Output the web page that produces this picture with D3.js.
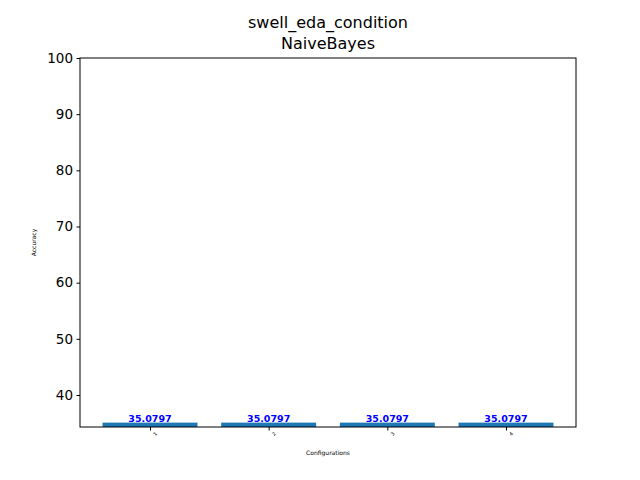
<!DOCTYPE html>
<html><head><meta charset="utf-8">
<script src="https://cdn.jsdelivr.net/npm/d3@7"></script>
<style>body{margin:0;background:#fff}text{font-family:"DejaVu Sans",sans-serif}</style>
</head><body><div id="chart"></div>
<script>
const configs = ['1', '2', '3', '4'];
const accuracy = [35.0797, 35.0797, 35.0797, 35.0797];
const yTicks = [40, 50, 60, 70, 80, 90, 100];

const W = 640, H = 480;
const margin = { top: 58, right: 64, bottom: 53, left: 80 };
const pw = W - margin.left - margin.right, ph = H - margin.top - margin.bottom;

const svg = d3.select('#chart').append('svg').attr('width', W).attr('height', H);
const g = svg.append('g').attr('transform', `translate(${margin.left},${margin.top})`);

const x = d3.scaleLinear().domain([0.41, 4.59]).range([0, pw]);
const y = d3.scaleLinear().domain([34.3, 100]).range([ph, 0]);

g.selectAll('rect.bar').data(accuracy).enter().append('rect')
  .attr('x', (d, i) => x(i + 1 - 0.4))
  .attr('width', x(0.8) - x(0))
  .attr('y', d => y(d))
  .attr('height', d => ph - y(d))
  .attr('fill', '#1f77b4');

g.selectAll('text.val').data(accuracy).enter().append('text')
  .attr('x', (d, i) => x(i + 1)).attr('y', d => y(d) - 1)
  .attr('text-anchor', 'middle').attr('font-size', 9.5).attr('font-weight', 'bold')
  .attr('fill', 'blue').text(d => d.toFixed(4));

const yAxis = g.append('g').call(d3.axisLeft(y).tickValues(yTicks).tickSize(3.5).tickPadding(3.5));
yAxis.selectAll('text').attr('font-size', 13.5).attr('fill', '#000');
yAxis.select('.domain').remove();

const xAxis = g.append('g').attr('transform', `translate(0,${ph})`)
  .call(d3.axisBottom(x).tickValues([1, 2, 3, 4]).tickFormat((d, i) => configs[i]).tickSize(3.5).tickPadding(2));
xAxis.select('.domain').remove();
xAxis.selectAll('text').attr('font-size', 5).attr('fill', '#000')
  .attr('transform', 'rotate(-45)').attr('dy', '0.9em').style('text-anchor', 'end');

g.append('rect').attr('width', pw).attr('height', ph).attr('fill', 'none').attr('stroke', '#000').attr('stroke-width', 1);

svg.append('text').attr('x', margin.left + pw / 2).attr('y', 455).attr('text-anchor', 'middle')
  .attr('font-size', 6).text('Configurations');
svg.append('text').attr('transform', `translate(36,${margin.top + ph / 2}) rotate(-90)`)
  .attr('text-anchor', 'middle').attr('font-size', 6).text('Accuracy');
svg.append('text').attr('x', margin.left + pw / 2).attr('y', 28).attr('text-anchor', 'middle')
  .attr('font-size', 16).text('swell_eda_condition');
svg.append('text').attr('x', margin.left + pw / 2).attr('y', 49).attr('text-anchor', 'middle')
  .attr('font-size', 16).text('NaiveBayes');
</script></body></html>
